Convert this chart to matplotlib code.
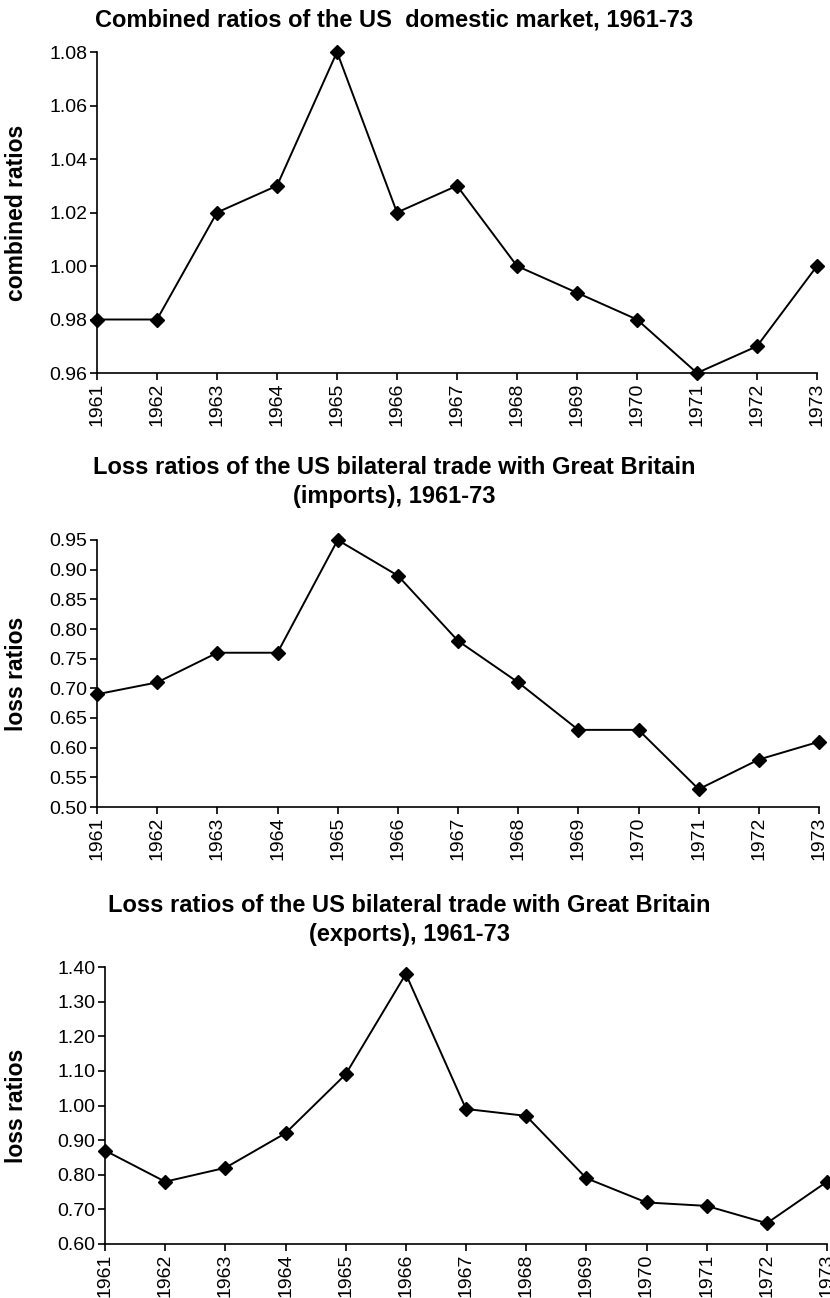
import matplotlib
matplotlib.use("Agg")
import matplotlib.pyplot as plt
from matplotlib.ticker import FormatStrFormatter

plt.rcParams['font.family'] = ['Liberation Sans', 'DejaVu Sans']

years = list(range(1961, 1974))

combined = [0.98, 0.98, 1.02, 1.03, 1.08, 1.02, 1.03, 1.00, 0.99, 0.98, 0.96, 0.97, 1.00]
loss_imports = [0.69, 0.71, 0.76, 0.76, 0.95, 0.89, 0.78, 0.71, 0.63, 0.63, 0.53, 0.58, 0.61]
loss_exports = [0.87, 0.78, 0.82, 0.92, 1.09, 1.38, 0.99, 0.97, 0.79, 0.72, 0.71, 0.66, 0.78]

titles = ['Combined ratios of the US  domestic market, 1961-73',
          'Loss ratios of the US bilateral trade with Great Britain\n(imports), 1961-73',
          'Loss ratios of the US bilateral trade with Great Britain\n(exports), 1961-73']
ylabels = ['combined ratios', 'loss ratios', 'loss ratios']
yranges = [(0.96, 1.08, 0.02), (0.50, 0.95, 0.05), (0.60, 1.40, 0.10)]

W, H = 830, 1298
# pixel boxes of the plot areas: left, right, top, bottom
boxes = [(97, 817, 52, 373), (97, 819, 540, 807), (105, 827, 967, 1244)]
# title centres in pixels (x, y)
title_pos = [(394, 20), (394, 482), (409, 920)]

fig = plt.figure(figsize=(W / 100, H / 100), dpi=100)

for i, series in enumerate([combined, loss_imports, loss_exports]):
    l, r, t, b = boxes[i]
    ax = fig.add_axes([l / W, 1 - b / H, (r - l) / W, (b - t) / H])
    ax.plot(years, series, color='black', lw=1.4, marker='D', ms=7.5,
            clip_on=False, zorder=3)
    lo, hi, step = yranges[i]
    n = int(round((hi - lo) / step))
    ax.set_ylim(lo, hi)
    ax.set_yticks([lo + k * step for k in range(n + 1)])
    ax.yaxis.set_major_formatter(FormatStrFormatter('%.2f'))
    ax.set_xlim(1961, 1973)
    ax.set_xticks(years)
    ax.set_xticklabels([str(y) for y in years], rotation=90)
    for s in ['top', 'right']:
        ax.spines[s].set_visible(False)
    for s in ['left', 'bottom']:
        ax.spines[s].set_linewidth(1.2)
    ax.tick_params(axis='both', direction='out', length=5, width=1.2,
                   labelsize=14, pad=2)
    ax.set_ylabel(ylabels[i], fontsize=16.5, fontweight='bold')
    ax.yaxis.set_label_coords((28 - l) / (r - l), 0.5)
    tx, ty = title_pos[i]
    fig.text(tx / W, 1 - ty / H, titles[i], ha='center', va='center',
             fontsize=17, fontweight='bold', linespacing=1.35,
             multialignment='center')

fig.savefig('out.png', dpi=100)
